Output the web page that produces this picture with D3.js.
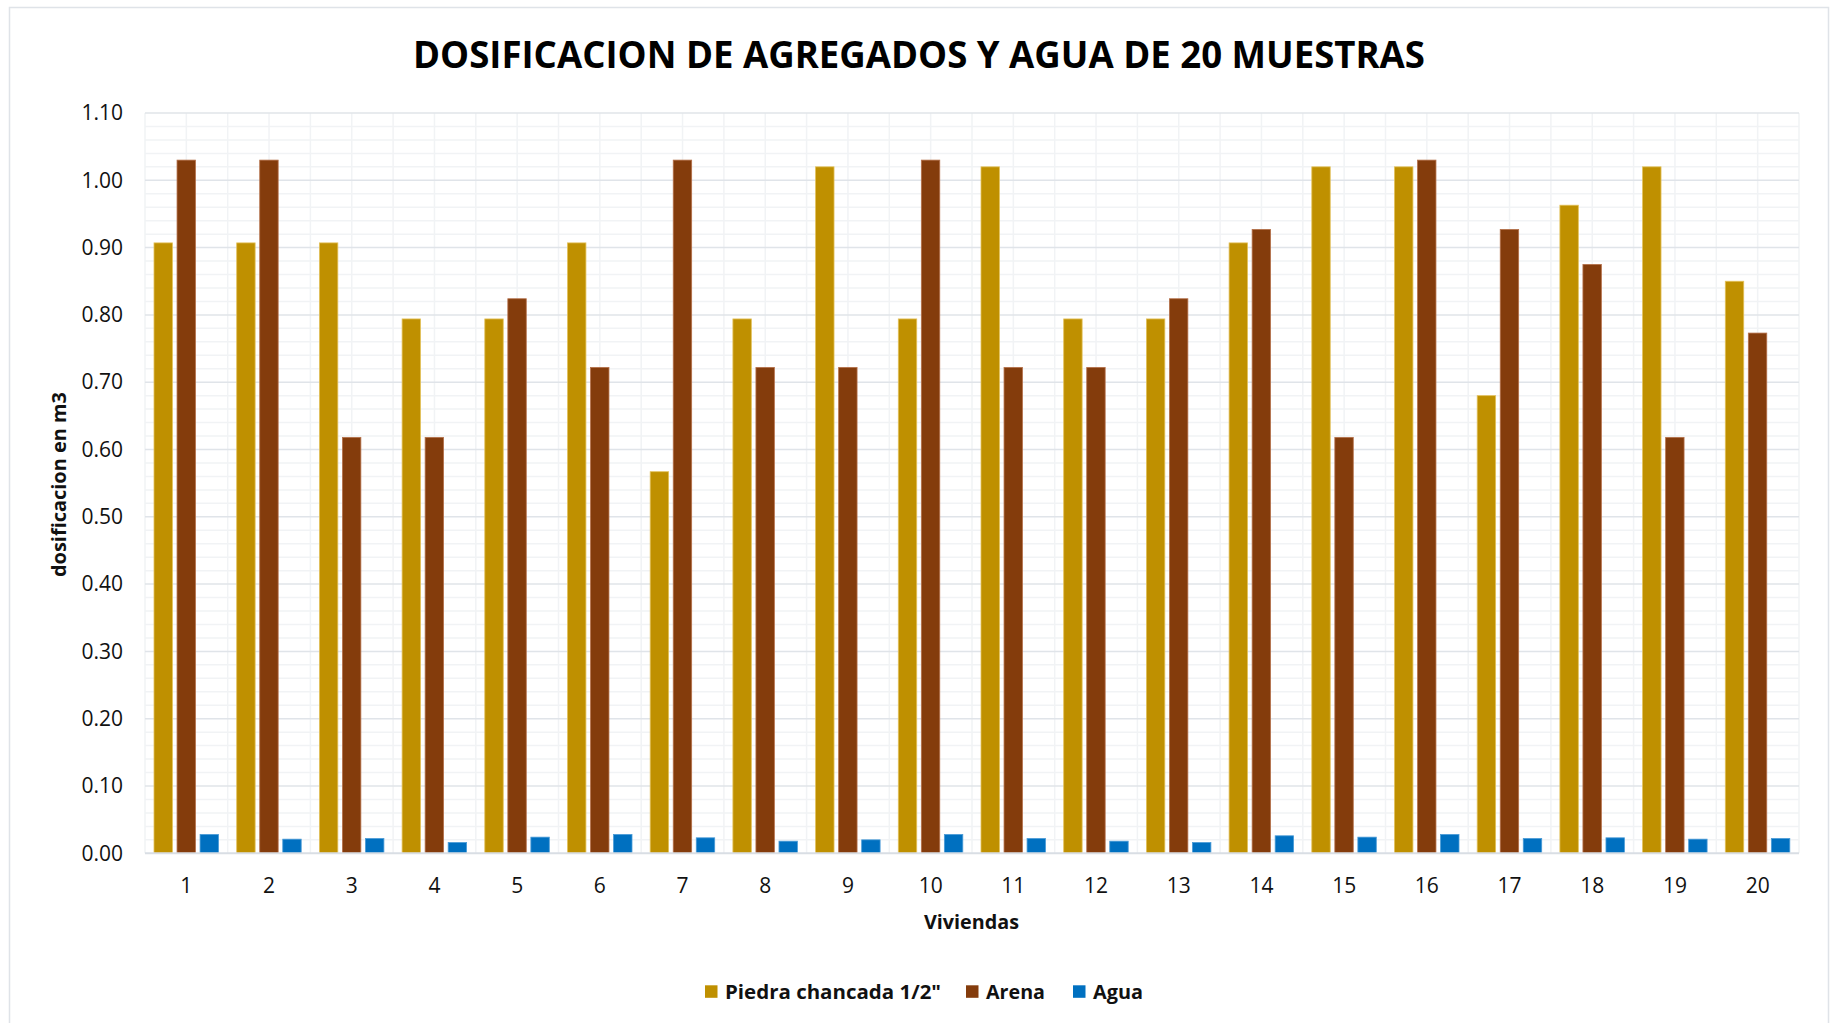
<!DOCTYPE html>
<html>
<head>
<meta charset="utf-8">
<script src="https://cdn.jsdelivr.net/npm/d3@7"></script>
<style>
  body { margin: 0; background: #fff; }
  svg { display: block; font-family: "Open Sans", sans-serif; }
</style>
</head>
<body>
<svg id="chart" width="1831" height="1023"></svg>
<script>
// data
const viviendas = ['1','2','3','4','5','6','7','8','9','10','11','12','13','14','15','16','17','18','19','20'];
const piedra = [0.907,0.907,0.907,0.794,0.794,0.907,0.567,0.794,1.020,0.794,1.020,0.794,0.794,0.907,1.020,1.020,0.680,0.963,1.020,0.850];
const arena  = [1.030,1.030,0.618,0.618,0.824,0.722,1.030,0.722,0.722,1.030,0.722,0.722,0.824,0.927,0.618,1.030,0.927,0.875,0.618,0.773];
const agua   = [0.028,0.021,0.022,0.016,0.024,0.028,0.023,0.018,0.020,0.028,0.022,0.018,0.016,0.026,0.024,0.028,0.022,0.023,0.021,0.022];
const seriesNames = ['Piedra chancada 1/2"', 'Arena', 'Agua'];
const colors = ['#BF9000', '#843C0C', '#0070C0'];
const strokes = ['#E3C15A', '#B5704A', '#4A9BD6'];
const yTicks = [0,0.1,0.2,0.3,0.4,0.5,0.6,0.7,0.8,0.9,1.0,1.1];

const svg = d3.select('#chart');

const plotL = 145, plotR = 1799, plotT = 113, plotB = 853.3;

// outer chart border
svg.append('rect')
  .attr('x', 9.5).attr('y', 7.5)
  .attr('width', 1819).attr('height', 1040)
  .attr('fill', '#fff')
  .attr('stroke', '#dfe3e8').attr('stroke-width', 1.5);

const x = d3.scaleBand().domain(viviendas).range([plotL, plotR]).padding(0);
const x1 = d3.scaleBand().domain(seriesNames).range([9, 73.5]).paddingInner(0.2).paddingOuter(0);
const y = d3.scaleLinear().domain([0, 1.1]).range([plotB, plotT]);

// minor horizontal grid
const minor = d3.range(0, 111, 2).map(d => d / 100).filter(d => Math.round(d * 100) % 10 !== 0);
svg.append('g').selectAll('line').data(minor).join('line')
  .attr('x1', plotL).attr('x2', plotR)
  .attr('y1', d => y(d)).attr('y2', d => y(d))
  .attr('stroke', '#f1f3f5').attr('stroke-width', 1.5);

// vertical grid every half category
const halfStep = x.bandwidth() / 2;
const vLines = d3.range(0, viviendas.length * 2 + 1).map(i => plotL + i * halfStep);
svg.append('g').selectAll('line').data(vLines).join('line')
  .attr('x1', d => d).attr('x2', d => d)
  .attr('y1', plotT).attr('y2', plotB)
  .attr('stroke', '#f1f3f5').attr('stroke-width', 1.5);

// major horizontal grid
svg.append('g').selectAll('line').data(yTicks.slice(1)).join('line')
  .attr('x1', plotL).attr('x2', plotR)
  .attr('y1', d => y(d)).attr('y2', d => y(d))
  .attr('stroke', '#e0e4e9').attr('stroke-width', 1.5);

// y axis labels
const yAxis = svg.append('g')
  .attr('transform', `translate(${plotL - 22},0)`)
  .call(d3.axisLeft(y).tickValues(yTicks).tickFormat(d3.format('.2f')).tickSize(0).tickPadding(0));
yAxis.select('.domain').remove();
yAxis.selectAll('text')
  .attr('font-size', 21).attr('fill', '#111').attr('font-family', '"Open Sans", sans-serif');

// bars
const table = viviendas.map((v, i) => ({ v, vals: [piedra[i], arena[i], agua[i]] }));
const groups = svg.append('g').selectAll('g').data(table).join('g')
  .attr('transform', d => `translate(${x(d.v)},0)`);
groups.selectAll('rect')
  .data(d => d.vals.map((val, k) => ({ val, k })))
  .join('rect')
  .attr('x', d => x1(seriesNames[d.k]))
  .attr('width', x1.bandwidth())
  .attr('y', d => y(d.val))
  .attr('height', d => y(0) - y(d.val))
  .attr('fill', d => colors[d.k])
  .attr('stroke', d => strokes[d.k])
  .attr('stroke-width', 0.8);

// x axis baseline + labels
svg.append('line')
  .attr('x1', plotL).attr('x2', plotR)
  .attr('y1', plotB).attr('y2', plotB)
  .attr('stroke', '#d9dee4').attr('stroke-width', 2);

const xAxis = svg.append('g')
  .attr('transform', `translate(0,${plotB + 25})`)
  .call(d3.axisBottom(x).tickSize(0).tickPadding(0));
xAxis.select('.domain').remove();
xAxis.selectAll('text')
  .attr('font-size', 21).attr('fill', '#111').attr('dy', '0.71em')
  .attr('font-family', '"Open Sans", sans-serif');

// title
svg.append('text')
  .attr('x', 919).attr('y', 68)
  .attr('text-anchor', 'middle')
  .attr('font-size', 37).attr('font-weight', 'bold').attr('fill', '#000')
  .attr('textLength', 1012).attr('lengthAdjust', 'spacingAndGlyphs')
  .text('DOSIFICACION DE AGREGADOS Y AGUA DE 20 MUESTRAS');

// axis titles
svg.append('text')
  .attr('transform', 'translate(66,484.5) rotate(-90)')
  .attr('text-anchor', 'middle')
  .attr('font-size', 20).attr('font-weight', 'bold').attr('fill', '#111')
  .attr('textLength', 185).attr('lengthAdjust', 'spacingAndGlyphs')
  .text('dosificacion en m3');

svg.append('text')
  .attr('x', 971.5).attr('y', 929)
  .attr('text-anchor', 'middle')
  .attr('font-size', 20).attr('font-weight', 'bold').attr('fill', '#111')
  .attr('textLength', 95).attr('lengthAdjust', 'spacingAndGlyphs')
  .text('Viviendas');

// legend
const legendX = [705, 966, 1073];
const legendW = [216, 59, 50];
const legend = svg.append('g').selectAll('g').data(seriesNames).join('g')
  .attr('transform', (d, i) => `translate(${legendX[i]},991.5)`);
legend.append('rect')
  .attr('x', 0).attr('y', -6.2).attr('width', 12.5).attr('height', 12.5)
  .attr('fill', (d, i) => colors[i]);
legend.append('text')
  .attr('x', 20).attr('y', 7.3)
  .attr('font-size', 20).attr('font-weight', 'bold').attr('fill', '#111')
  .attr('textLength', (d, i) => legendW[i]).attr('lengthAdjust', 'spacingAndGlyphs')
  .text(d => d);
</script>
</body>
</html>
